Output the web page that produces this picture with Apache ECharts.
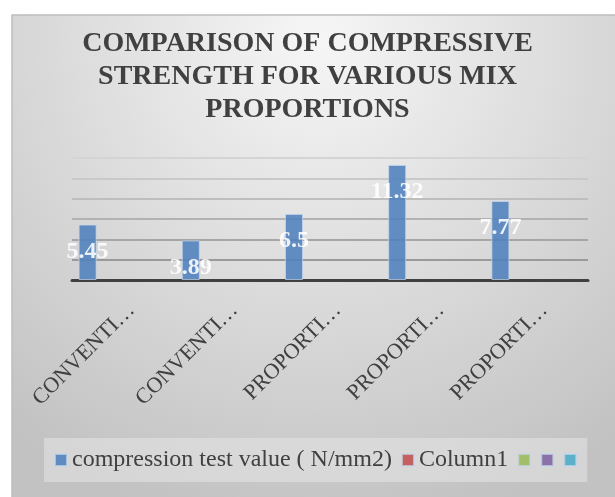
<!DOCTYPE html>
<html>
<head>
<meta charset="utf-8">
<script src="https://cdn.jsdelivr.net/npm/echarts@6/dist/echarts.min.js"></script>
<style>
  html, body { margin: 0; padding: 0; background: #fff; }
  #main { width: 615px; height: 497px; }
</style>
</head>
<body>
<div id="main"></div>
<script>
// categories as shown (truncated by the original chart)
const categories = ["CONVENTI…", "CONVENTI…", "PROPORTI…", "PROPORTI…", "PROPORTI…"];
const compressionValues = [5.45, 3.89, 6.5, 11.32, 7.77];
const seriesNames = ["compression test value ( N/mm2)", "Column1", " ", "  ", "   "];
const seriesColors = ["#4f81bd", "#c0504d", "#9bbb59", "#8064a2", "#4bacc6"];

const chart = echarts.init(document.getElementById("main"), null, { renderer: "canvas" });

const serif = "'Liberation Serif', 'Times New Roman', serif";

// only the first series has values, the others are empty columns
const series = seriesNames.map((name, i) => ({
  name: name,
  type: "bar",
  data: i === 0 ? compressionValues : [],
  barWidth: 18,
  barGap: "0%",
  itemStyle: {
    color: seriesColors[i],
    opacity: 0.88,
    borderColor: "rgba(200,215,235,0.8)",
    borderWidth: 1,
  },
  label: {
    show: i === 0,
    position: "insideTop",
    distance: 15,
    color: "#fff",
    fontFamily: serif,
    fontWeight: "bold",
    fontSize: 24,
  },
}));

chart.setOption({
  animation: false,
  graphic: [
    {
      type: "rect",
      z: -10,
      shape: { x: 12, y: 15, width: 612, height: 492 },
      style: {
        fill: new echarts.graphic.RadialGradient(0.5, 0.05, 1.0, [
          { offset: 0, color: "#f6f6f6" },
          { offset: 1, color: "#c2c2c2" },
        ]),
        stroke: "#bdbdbd",
        lineWidth: 1.5,
      },
    },
  ],
  title: {
    text: "COMPARISON OF COMPRESSIVE\nSTRENGTH FOR VARIOUS MIX\nPROPORTIONS",
    left: "center",
    top: 22,
    textStyle: {
      fontFamily: serif,
      fontWeight: "bold",
      fontSize: 28,
      lineHeight: 33,
      color: "#404040",
    },
  },
  legend: {
    data: seriesNames,
    bottom: 15,
    left: 44,
    icon: "rect",
    itemWidth: 12,
    itemHeight: 12,
    itemGap: 9,
    padding: [10, 10],
    backgroundColor: "rgba(230,230,230,0.55)",
    formatter: (name) => name.trim(),
    textStyle: {
      fontFamily: serif,
      fontSize: 24,
      color: "#404040",
    },
  },
  grid: { left: 72, right: 27, top: 158, bottom: 217 },
  xAxis: {
    type: "category",
    data: categories,
    axisTick: { show: false },
    axisLine: { lineStyle: { color: "#404040", width: 3 } },
    axisLabel: {
      interval: 0,
      rotate: 45,
      margin: 19,
      verticalAlign: "top",
      fontFamily: serif,
      fontSize: 22,
      color: "#404040",
    },
  },
  yAxis: {
    type: "value",
    min: 0,
    max: 12,
    interval: 2,
    axisLabel: { show: false },
    axisLine: { show: false },
    axisTick: { show: false },
    splitLine: {
      lineStyle: {
        width: 2,
        color: ["#404040", "#9a9a9a", "#a6a6a6", "#b2b2b2", "#bebebe", "#c9c9c9", "#d4d4d4"],
      },
    },
  },
  series: series,
});
</script>
</body>
</html>
